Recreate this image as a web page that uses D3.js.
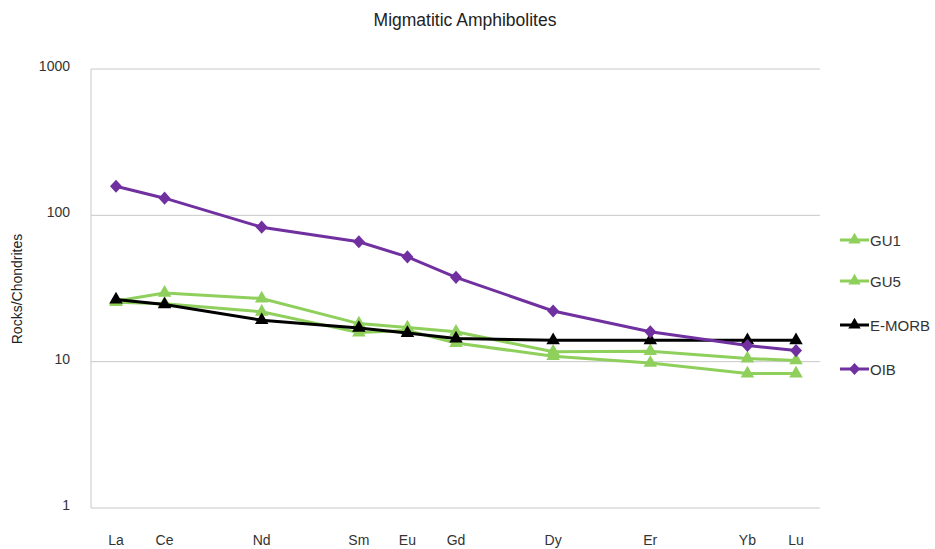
<!DOCTYPE html>
<html>
<head>
<meta charset="utf-8">
<script src="https://cdn.jsdelivr.net/npm/d3@7"></script>
<style>
  body { margin: 0; background: #fff; }
  text { font-family: "Liberation Sans", Arial, sans-serif; fill: #333; }
</style>
</head>
<body>
<div id="vis"></div>
<script>
// Chart size
const FRAME_WIDTH = 935;
const FRAME_HEIGHT = 549;
const MARGINS = {left: 91, right: 115, top: 69, bottom: 41};

// All REEs in order (spacing follows atomic order), and the ones plotted
const allREE = ["La", "Ce", "Pr", "Nd", "Pm", "Sm", "Eu", "Gd", "Tb", "Dy", "Ho", "Er", "Tm", "Yb", "Lu"];
const elements = ["La", "Ce", "Nd", "Sm", "Eu", "Gd", "Dy", "Er", "Yb", "Lu"];
const yTicks = [1, 10, 100, 1000];

// Series values (normalised to chondrite)
const gu1 = [26.0, 29.5, 27.0, 18.2, 17.1, 16.0, 11.7, 11.8, 10.5, 10.2];
const gu5 = [25.5, 24.9, 21.9, 15.8, 16.3, 13.4, 10.9, 9.8, 8.3, 8.3];
const emorb = [26.6, 24.6, 19.2, 17.0, 15.7, 14.4, 14.0, 14.0, 14.0, 14.0];
const oib = [158, 131, 83, 66, 52, 37.7, 22.2, 16.0, 12.9, 11.9];

const seriesNames = ["GU1", "GU5", "E-MORB", "OIB"];
const seriesData = [gu1, gu5, emorb, oib];
const colors = ["#8fcf5b", "#8fcf5b", "#000000", "#7030a0"];

// marker paths: triangle or a fat diamond
function marker(s, r) {
  if (s === 3) {
    return "M0," + (-r * 1.1) + "L" + r + ",0L0," + (r * 1.1) + "L" + (-r) + ",0Z";
  }
  return d3.symbol().type(d3.symbolTriangle).size(r * r * 2.2)();
}

const FRAME = d3.select("#vis")
  .append("svg")
    .attr("width", FRAME_WIDTH)
    .attr("height", FRAME_HEIGHT);

const plotRight = FRAME_WIDTH - MARGINS.right;
const plotBottom = FRAME_HEIGHT - MARGINS.bottom;

const x = d3.scalePoint()
  .domain(allREE)
  .range([116, 796]);

const y = d3.scaleLog()
  .domain([1, 1000])
  .range([plotBottom, MARGINS.top]);

// title
FRAME.append("text")
  .attr("x", 465)
  .attr("y", 26)
  .attr("text-anchor", "middle")
  .style("font-size", "17.5px")
  .style("fill", "#222")
  .text("Migmatitic Amphibolites");

// gridlines
FRAME.selectAll(".grid")
  .data(yTicks)
  .enter()
  .append("line")
    .attr("x1", MARGINS.left)
    .attr("x2", plotRight)
    .attr("y1", d => y(d))
    .attr("y2", d => y(d))
    .attr("stroke", "#c8c8c8")
    .attr("stroke-width", 1);

// left axis line
FRAME.append("line")
  .attr("x1", MARGINS.left).attr("x2", MARGINS.left)
  .attr("y1", MARGINS.top).attr("y2", plotBottom)
  .attr("stroke", "#c8c8c8");

// y tick labels
FRAME.selectAll(".ytick")
  .data(yTicks)
  .enter()
  .append("text")
    .attr("x", 70)
    .attr("y", d => y(d) + 2)
    .attr("text-anchor", "end")
    .style("font-size", "14px")
    .text(d => d);

// x labels
FRAME.selectAll(".xtick")
  .data(elements)
  .enter()
  .append("text")
    .attr("x", d => x(d))
    .attr("y", 545)
    .attr("text-anchor", "middle")
    .style("font-size", "14px")
    .text(d => d);

// y axis title
FRAME.append("text")
  .attr("transform", "translate(22," + 289 + ") rotate(-90)")
  .attr("text-anchor", "middle")
  .style("font-size", "14px")
  .style("fill", "#222")
  .text("Rocks/Chondrites");

const line = d3.line()
  .x((d, i) => x(elements[i]))
  .y(d => y(d));

// series, drawn in order so OIB ends on top
seriesData.forEach((vals, s) => {
  FRAME.append("path")
    .datum(vals)
    .attr("d", line)
    .attr("fill", "none")
    .attr("stroke", colors[s])
    .attr("stroke-width", 3);

  FRAME.selectAll(".pt" + s)
    .data(vals)
    .enter()
    .append("path")
      .attr("d", marker(s, 6))
      .attr("transform", (d, i) => "translate(" + x(elements[i]) + "," + y(d) + ")")
      .attr("fill", colors[s]);
});

// legend
const legendY = [240, 281, 325, 369];
seriesNames.forEach((name, s) => {
  const g = FRAME.append("g")
    .attr("transform", "translate(840," + legendY[s] + ")");
  g.append("line")
    .attr("x1", 0).attr("x2", 29)
    .attr("stroke", colors[s])
    .attr("stroke-width", 3);
  g.append("path")
    .attr("d", marker(s, 5.5))
    .attr("transform", "translate(14.5,0)")
    .attr("fill", colors[s]);
  g.append("text")
    .attr("x", 30)
    .attr("y", 5.5)
    .style("font-size", "15px")
    .text(name);
});
</script>
</body>
</html>
